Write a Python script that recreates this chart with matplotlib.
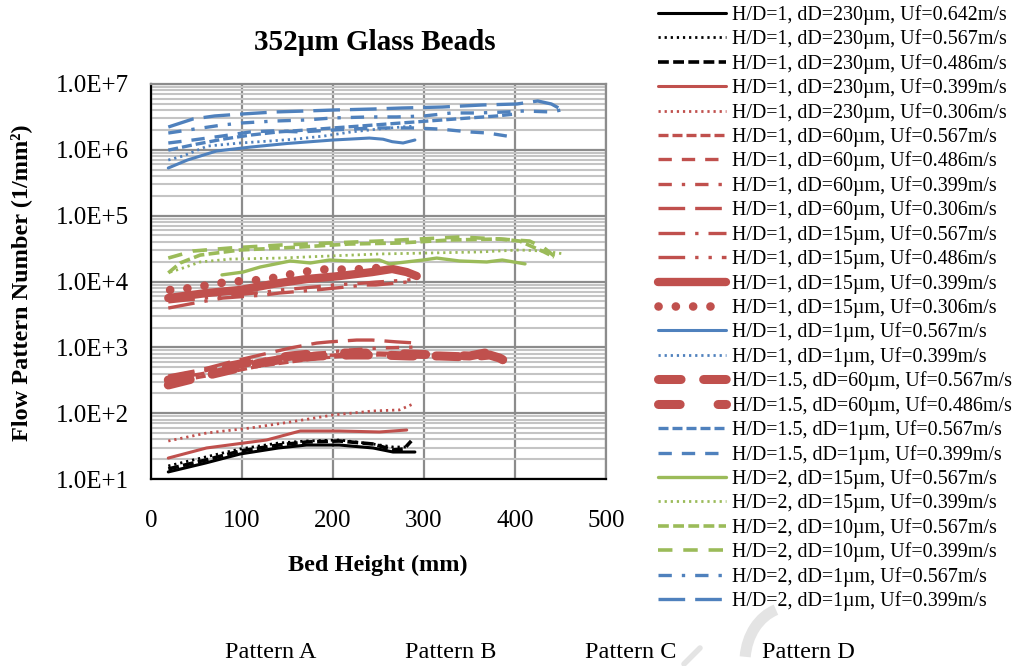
import numpy as np
import matplotlib.pyplot as plt
from matplotlib.ticker import FixedLocator, LogLocator, FuncFormatter, NullFormatter
from matplotlib.lines import Line2D
from matplotlib.patches import Arc

plt.rcParams['font.family'] = ['Liberation Serif', 'DejaVu Serif']

# bed height (mm) / flow pattern number (1/mm^2) for each run
# H/D=1, dD=230um
x_230_642 = [19, 60, 98, 140, 171, 207, 244, 266, 290]
y_230_642 = [12.8, 17.5, 24.0, 29.6, 32.8, 32.8, 29.6, 25.7, 25.7]
x_230_567 = [19, 60, 98, 140, 171, 207, 244, 266, 284]
y_230_567 = [15.8, 21.6, 28.6, 35.2, 37.8, 39.1, 34.0, 30.6, 30.6]
x_230_486 = [19, 60, 98, 140, 171, 207, 244, 266, 278, 286]
y_230_486 = [14.2, 19.4, 26.6, 32.8, 36.5, 37.8, 34.0, 27.6, 28.6, 37.8]
x_230_399 = [19, 61, 127, 164, 207, 251, 281]
y_230_399 = [20.8, 29.6, 39.1, 53.6, 53.6, 51.8, 55.5]
x_230_306 = [19, 61, 109, 153, 200, 244, 273, 288]
y_230_306 = [37.8, 49.9, 59.5, 73.4, 93.8, 108, 112, 138]

# H/D=1, dD=60um
x_60 = [19, 54, 87, 120, 153, 186, 218, 251, 292]
y_60_567 = [287, 354, 422, 520, 599, 689, 739, 765, 739]
y_60_486 = [330, 393, 485, 578, 665, 739, 792, 820, 792]
y_60_399 = [342, 422, 539, 642, 765, 820, 910, 977, 1010]
x_60_306 = [19, 54, 87, 120, 153, 182, 196, 226, 243, 270, 292]
y_60_306 = [367, 453, 599, 765, 977, 1160, 1210, 1290, 1290, 1210, 1160]

# H/D=1, dD=15um
x_15 = [19, 48, 79, 125, 141, 181, 203, 236, 247, 281, 292]
y_15_567 = [3950, 4710, 5610, 6240, 6680, 7430, 7970, 8850, 8850, 9820, 9490]
y_15_486 = [4900, 5400, 6000, 6900, 7400, 8300, 8900, 9500, 9800, 10500, 10900]
x_15_399 = [19, 61, 98, 134, 171, 207, 243, 265, 281, 292]
y_15_399 = [5610, 6680, 7430, 9170, 10900, 12100, 13900, 15500, 13900, 12100]
x_15_306 = [21, 35, 52, 68, 85, 101, 117, 134, 150, 167, 183, 200, 215, 233, 248, 264]
y_15_306 = [7430, 7700, 8250, 9170, 9820, 10200, 10500, 11300, 12600, 13900,
            15000, 15500, 15000, 15500, 16000, 16600]

# H/D=1, dD=1um
x_1_567 = [19, 40, 72, 109, 150, 200, 240, 255, 265, 277, 290]
y_1_567 = [5.3e5, 7.0e5, 9.6e5, 1.1e6, 1.25e6, 1.41e6, 1.51e6, 1.45e6, 1.33e6, 1.27e6, 1.41e6]
x_1_399 = [19, 35, 46, 62, 98, 130, 160, 190, 220, 250, 275, 290]
y_1_399 = [7.0e5, 8.05e5, 9.27e5, 1.14e6, 1.27e6, 1.36e6, 1.46e6, 1.62e6,
           1.87e6, 2.07e6, 2.22e6, 2.30e6]

# H/D=1.5, dD=60um
x_15d60_567 = [19, 54, 87, 120, 153, 186, 218, 251, 284, 317, 350, 372, 383, 391]
y_15d60_567 = [268, 354, 453, 578, 689, 739, 765, 765, 739, 739, 713, 765, 689, 599]
x_15d60_486 = [19, 54, 87, 120, 153, 186, 218, 251, 284, 317, 350, 367, 378, 389]
y_15d60_486 = [319, 407, 520, 642, 739, 820, 820, 820, 792, 765, 739, 820, 689, 620]

# H/D=1.5, dD=1um
x_15d1_567 = [19, 50, 80, 110, 140, 170, 200, 230, 260, 290, 320, 350, 380, 400]
y_15d1_567 = [9.9e5, 1.22e6, 1.46e6, 1.68e6, 1.87e6, 2.0e6, 2.15e6, 2.30e6,
              2.47e6, 2.65e6, 2.84e6, 3.05e6, 3.27e6, 3.50e6]
x_15d1_399 = [19, 46, 78, 109, 134, 164, 200, 244, 288, 317, 350, 370, 391]
y_15d1_399 = [1.27e6, 1.41e6, 1.62e6, 1.87e6, 1.94e6, 1.87e6, 2.0e6, 2.15e6,
              2.15e6, 2.07e6, 1.87e6, 1.80e6, 1.62e6]

# H/D=2
x_2d15_567 = [78, 101, 120, 142, 153, 175, 196, 218, 251, 262, 299, 314, 339, 369, 386, 411]
y_2d15_567 = [12600, 13900, 16600, 19100, 20500, 19100, 21200, 20500, 21200, 18500,
              21200, 22700, 20500, 19800, 21200, 18500]
x_2d15_399 = [21, 35, 54, 87, 142, 196, 251, 306, 361, 405, 432, 454]
y_2d15_399 = [13900, 16000, 19800, 21900, 22700, 24400, 26200, 27100, 28100, 30100, 29000, 26200]
x_2d10_567 = [19, 32, 54, 98, 164, 218, 273, 328, 383, 405, 432, 443]
y_2d10_567 = [13500, 19100, 25200, 30100, 33400, 37100, 38400, 42700, 44200, 41200, 28100, 23500]
x_2d10_399 = [19, 46, 87, 142, 196, 251, 295, 339, 383, 416, 432, 443]
y_2d10_399 = [22700, 29000, 32300, 35800, 38400, 41200, 44200, 47400, 44200, 41200, 32300, 24400]
x_2d1_567 = [19, 48, 78, 100, 136, 170, 200, 240, 270, 300, 330, 360, 390, 410, 440, 456]
y_2d1_567 = [1.80e6, 2.07e6, 2.38e6, 2.56e6, 2.74e6, 2.84e6, 3.05e6, 3.16e6, 3.16e6,
             3.27e6, 3.63e6, 3.63e6, 3.76e6, 3.89e6, 3.76e6, 4.17e6]
x_2d1_399 = [19, 46, 70, 100, 136, 170, 202, 244, 276, 320, 364, 402, 425, 440, 452]
y_2d1_399 = [2.22e6, 2.94e6, 3.27e6, 3.50e6, 3.76e6, 3.89e6, 4.03e6, 4.17e6, 4.32e6,
             4.47e6, 4.80e6, 4.97e6, 5.52e6, 4.97e6, 4.03e6]

labels = [
    "H/D=1, dD=230µm, Uf=0.642m/s", "H/D=1, dD=230µm, Uf=0.567m/s",
    "H/D=1, dD=230µm, Uf=0.486m/s", "H/D=1, dD=230µm, Uf=0.399m/s",
    "H/D=1, dD=230µm, Uf=0.306m/s", "H/D=1, dD=60µm, Uf=0.567m/s",
    "H/D=1, dD=60µm, Uf=0.486m/s", "H/D=1, dD=60µm, Uf=0.399m/s",
    "H/D=1, dD=60µm, Uf=0.306m/s", "H/D=1, dD=15µm, Uf=0.567m/s",
    "H/D=1, dD=15µm, Uf=0.486m/s", "H/D=1, dD=15µm, Uf=0.399m/s",
    "H/D=1, dD=15µm, Uf=0.306m/s", "H/D=1, dD=1µm, Uf=0.567m/s",
    "H/D=1, dD=1µm, Uf=0.399m/s", "H/D=1.5, dD=60µm, Uf=0.567m/s",
    "H/D=1.5, dD=60µm, Uf=0.486m/s", "H/D=1.5, dD=1µm, Uf=0.567m/s",
    "H/D=1.5, dD=1µm, Uf=0.399m/s", "H/D=2, dD=15µm, Uf=0.567m/s",
    "H/D=2, dD=15µm, Uf=0.399m/s", "H/D=2, dD=10µm, Uf=0.567m/s",
    "H/D=2, dD=10µm, Uf=0.399m/s", "H/D=2, dD=1µm, Uf=0.567m/s",
    "H/D=2, dD=1µm, Uf=0.399m/s",
]
series_x = [x_230_642, x_230_567, x_230_486, x_230_399, x_230_306,
            x_60, x_60, x_60, x_60_306,
            x_15, x_15, x_15_399, x_15_306,
            x_1_567, x_1_399, x_15d60_567, x_15d60_486, x_15d1_567, x_15d1_399,
            x_2d15_567, x_2d15_399, x_2d10_567, x_2d10_399, x_2d1_567, x_2d1_399]
series_y = [y_230_642, y_230_567, y_230_486, y_230_399, y_230_306,
            y_60_567, y_60_486, y_60_399, y_60_306,
            y_15_567, y_15_486, y_15_399, y_15_306,
            y_1_567, y_1_399, y_15d60_567, y_15d60_486, y_15d1_567, y_15d1_399,
            y_2d15_567, y_2d15_399, y_2d10_567, y_2d10_399, y_2d1_567, y_2d1_399]

K, R, B, G = '#000000', '#c0504d', '#4f81bd', '#9bbb59'
solid = '-'
dot = (0, (0.8, 1.4))
sdash = (0, (3, 1.2))
dash = (0, (4, 3))
dashdot = (0, (4, 3, 1, 3))
lgdash = (0, (8, 3))
lgdashdot = (0, (8, 3, 1, 3))
lgdashdotdot = (0, (8, 3, 1, 3, 1, 3))
# (color, linestyle, width, capstyle)
styles = [
    (K, solid, 2.2, 'butt'), (K, dot, 2.0, 'butt'), (K, sdash, 2.6, 'butt'),
    (R, solid, 2.2, 'butt'), (R, dot, 2.0, 'butt'),
    (R, sdash, 2.4, 'butt'), (R, dash, 2.4, 'butt'), (R, dashdot, 2.4, 'butt'),
    (R, lgdash, 2.4, 'butt'),
    (R, lgdashdot, 2.4, 'butt'), (R, lgdashdotdot, 2.4, 'butt'),
    (R, solid, 6.0, 'round'), (R, (0, (0.01, 2.0)), 6.2, 'round'),
    (B, solid, 2.2, 'butt'), (B, dot, 2.0, 'butt'),
    (R, (0, (2.5, 2.5)), 6.5, 'round'), (R, (0, (2.4, 4.2)), 6.5, 'round'),
    (B, sdash, 2.4, 'butt'), (B, dash, 2.4, 'butt'),
    (G, solid, 2.4, 'butt'), (G, dot, 2.0, 'butt'),
    (G, sdash, 2.6, 'butt'), (G, dash, 2.6, 'butt'),
    (B, dashdot, 2.4, 'butt'), (B, lgdash, 2.4, 'butt'),
]

fig = plt.figure(figsize=(10.14, 6.66), dpi=100)
ax = fig.add_axes([151 / 1014, 1 - 479 / 666, 455 / 1014, 395 / 666])

for xs, ys, lab, (c, ls, lw, cap) in zip(series_x, series_y, labels, styles):
    ax.plot(xs, ys, color=c, linestyle=ls, linewidth=lw, label=lab,
            dash_capstyle=cap, solid_capstyle='round', solid_joinstyle='round')

ax.set_yscale('log')
ax.set_xlim(0, 500)
ax.set_ylim(10, 1e7)
ax.xaxis.set_major_locator(FixedLocator([0, 100, 200, 300, 400, 500]))
ax.yaxis.set_major_locator(LogLocator(base=10, numticks=10))
ax.yaxis.set_minor_locator(LogLocator(base=10, subs=np.arange(2, 10), numticks=20))
ax.yaxis.set_major_formatter(FuncFormatter(lambda v, _: f"1.0E+{int(round(np.log10(v)))}"))
ax.yaxis.set_minor_formatter(NullFormatter())
ax.grid(True, which='major', axis='both', color='#8c8c8c', linewidth=1.6)
ax.grid(True, which='minor', axis='y', color='#c4c4c4', linewidth=1.5)
ax.set_axisbelow(True)
ax.tick_params(which='both', length=0, labelsize=18)
ax.tick_params(axis='y', pad=16)
ax.tick_params(axis='x', pad=22)
for side in ('left', 'bottom'):
    ax.spines[side].set_color('black')
    ax.spines[side].set_linewidth(1.6)
for side in ('top', 'right'):
    ax.spines[side].set_color('#8c8c8c')
    ax.spines[side].set_linewidth(1.6)

fig.text(375 / 1014, 1 - 42 / 666, "352µm Glass Beads", ha='center', va='center',
         fontsize=21, fontweight='bold')
fig.text(378 / 1014, 1 - 565 / 666, "Bed Height (mm)", ha='center', va='center',
         fontsize=17.5, fontweight='bold')
fig.text(21 / 1014, 1 - 283 / 666, "Flow Pattern Number (1/mm²)", ha='center',
         va='center', rotation=90, fontsize=17.5, fontweight='bold')

for xp, txt in zip([271, 451, 631, 808], ["Pattern A", "Pattern B", "Pattern C", "Pattern D"]):
    fig.text(xp / 1014, 1 - 653 / 666, txt, ha='center', va='center', fontsize=17.5)

fig.legend(loc='upper left', bbox_to_anchor=(657 / 1014, 1 - 4 / 666), frameon=False,
           fontsize=14.4, handlelength=3.4, handletextpad=0.3, labelspacing=0.226,
           borderpad=0.05, borderaxespad=0)

# faint grey mark in the lower right corner
fig.add_artist(Line2D([684 / 1014, 700 / 1014], [1 - 664 / 666, 1 - 648 / 666],
                      color='#e4e4e4', linewidth=4, solid_capstyle='round'))
fig.add_artist(Arc((790 / 1014, 1 - 662 / 666), 90 / 1014, 110 / 666, theta1=100,
                   theta2=170, color='#e4e4e4', linewidth=8,
                   transform=fig.transFigure))

fig.savefig('out.png', dpi=100)
